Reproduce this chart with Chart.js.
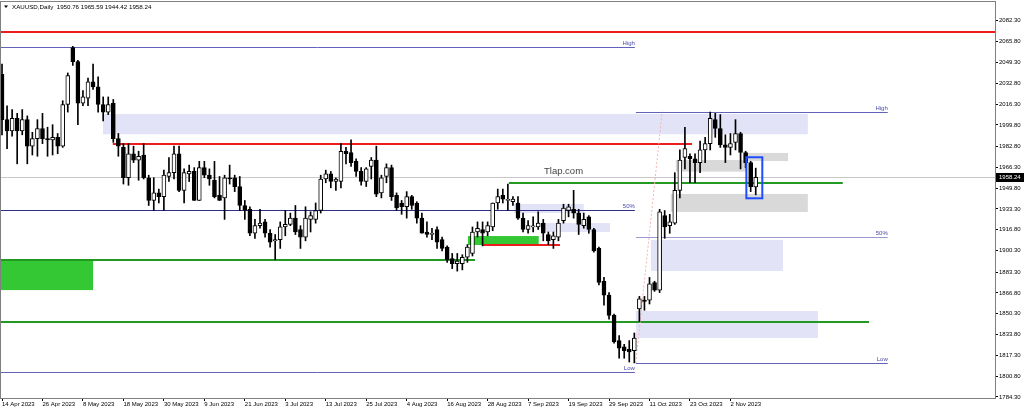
<!DOCTYPE html>
<html>
<head>
<meta charset="utf-8">
<script src="https://cdn.jsdelivr.net/npm/chart.js@4.4.1/dist/chart.umd.min.js"></script>
<style>
html,body{margin:0;padding:0;background:#fff;overflow:hidden}
canvas{display:block}
</style>
</head>
<body>
<canvas id="c" width="1024" height="412"></canvas>
<script>
// ---------- DATA ----------
const symbol = 'XAUUSD';
const period = 'Daily';

// x-axis tick labels (bar index of each label)
const xTickIdx = [0, 8, 16, 24, 32, 40, 48, 56, 64, 72, 80, 88, 96, 104, 112, 120, 128, 136, 144];
const xTickLabels = ['14 Apr 2023','26 Apr 2023','8 May 2023','18 May 2023','30 May 2023','9 Jun 2023',
  '21 Jun 2023','3 Jul 2023','13 Jul 2023','25 Jul 2023','4 Aug 2023','16 Aug 2023','28 Aug 2023',
  '7 Sep 2023','19 Sep 2023','29 Sep 2023','11 Oct 2023','23 Oct 2023','2 Nov 2023'];

// y-axis tick labels
const yTickLabels = ['2082.30','2065.80','2049.30','2032.80','2016.30','1999.80','1982.80','1966.30',
  '1949.80','1933.30','1916.80','1900.30','1883.30','1866.80','1850.30','1833.80','1817.30','1800.80','1784.30'];

// daily OHLC, 14 Apr 2023 .. 9 Nov 2023
const open = [2040,2004,1995,2005,1995,2004,1983,1989,1997,1989, 1988,1990,1983,2016,2061,2050,2017,2021,2034,2030,
  2016,2010,2017,1989,1982,1958,1977,1972,1976,1958, 1940,1946,1943,1959,1962,1977,1948,1961,1963,1940,
  1966,1960,1956,1944,1942,1958,1958,1951,1936,1933, 1914,1920,1923,1914,1908,1909,1919,1921,1926,1917,
  1911,1925,1925,1932,1957,1961,1955,1955,1979,1978, 1971,1963,1955,1967,1972,1946,1959,1966,1944,1938,
  1935,1943,1938,1926,1915,1913,1917,1909,1903,1894, 1890,1890,1895,1898,1915,1917,1915,1919,1938,1944,
  1940,1939,1938,1926,1917,1919,1919,1922,1913,1909, 1911,1924,1932,1933,1930,1920,1927,1917,1902,1876,
  1865,1849,1829,1824,1822,1821,1854,1861,1861,1875, 1869,1928,1920,1922,1948,1974,1975,1973,1970,1980,
  1985,2004,1997,1984,1982,1986,1993,1978,1970,1950.76];
const high = [2048,2015,2012,2009,2012,2007,1994,2004,2009,1998, 2000,1993,2019,2041,2062,2051,2027,2037,2048,2038,
  2022,2022,2020,1993,1985,1985,1983,1979,1985,1960, 1958,1949,1964,1974,1983,1983,1965,1968,1966,1971,
  1971,1965,1971,1959,1960,1968,1960,1959,1940,1935, 1925,1933,1925,1917,1913,1923,1932,1930,1936,1920,
  1935,1931,1938,1960,1964,1963,1958,1985,1982,1988, 1973,1966,1966,1974,1983,1960,1969,1968,1946,1940,
  1947,1944,1939,1930,1923,1918,1919,1911,1904,1898, 1898,1897,1905,1919,1923,1923,1923,1938,1949,1949,
  1953,1943,1943,1930,1924,1927,1931,1925,1915,1915, 1925,1937,1937,1948,1933,1930,1928,1918,1903,1879,
  1867,1850,1833,1826,1829,1835,1864,1864,1879,1876, 1933,1932,1929,1962,1980,1998,1977,1977,1987,1990,
  2010,2009,2008,1992,1993,2004,1994,1979,1971,1965.59];
const low = [1992,1981,1991,1969,1992,1969,1976,1975,1985,1975, 1976,1977,1982,2010,2047,2000,2015,2015,2028,2010,
  2003,2008,1986,1975,1953,1952,1970,1956,1957,1936, 1932,1938,1932,1955,1957,1947,1938,1955,1940,1940,
  1958,1952,1942,1940,1925,1953,1947,1932,1925,1912, 1910,1918,1911,1903,1893,1902,1912,1920,1913,1902,
  1908,1915,1922,1930,1954,1950,1948,1950,1969,1967, 1959,1952,1951,1957,1943,1942,1954,1940,1932,1929,
  1926,1933,1922,1914,1911,1909,1902,1900,1891,1886, 1884,1885,1891,1896,1911,1904,1912,1916,1933,1938,
  1932,1936,1925,1915,1914,1915,1917,1908,1905,1902, 1908,1922,1927,1926,1913,1918,1914,1899,1873,1857,
  1846,1827,1815,1815,1812,1811.3,1844,1853,1858,1868, 1867,1910,1914,1921,1942,1965,1954,1954,1962,1970,
  1980,1990,1982,1970,1976,1980,1965,1966,1947,1944.42];
const close = [2004,1995,2005,1995,2004,1983,1989,1997,1989,1988, 1990,1983,2016,2039,2050,2017,2022,2034,2030,2016,
  2010,2016,1989,1983,1958,1977,1972,1975,1958,1940, 1946,1943,1960,1962,1977,1948,1962,1963,1940,1966,
  1960,1957,1943,1940,1958,1957,1951,1936,1932,1914, 1920,1922,1914,1907,1909,1919,1921,1926,1915,1911,
  1926,1928,1932,1957,1961,1955,1957,1979,1977,1970, 1963,1955,1965,1972,1945,1958,1966,1943,1934,1935,
  1943,1936,1926,1914,1913,1914,1907,1902,1893,1890, 1892,1895,1903,1915,1918,1914,1920,1938,1943,1941,
  1940,1941,1926,1917,1920,1919,1922,1914,1908,1912, 1922,1934,1935,1930,1921,1925,1917,1900,1875,1865,
  1849,1828,1823,1821,1820,1831,1862,1860,1874,1869, 1931,1919,1923,1948,1972,1981,1973,1970,1980,1985,
  2005,1997,1984,1982,1985,1993,1978,1970,1951,1958.24];

// drawn objects, in data units: [fromBar, toBar, priceTop, priceBottom]
const lavenderZones = [[19.96,159.3,2008.5,1992.4],[101.2,115.0,1937.2,1930.0],[107.3,120.2,1922.1,1915.0],
  [128.3,154.4,1908.7,1884.1],[125.3,161.3,1852.4,1831.0]];
const grayZones = [[133.2,147.1,1972.0,1962.8],[146.5,155.4,1977.6,1971.2],[132.2,159.3,1945.1,1930.8]];
const greenZones = [[-2,18.0,1893.0,1869.0],[92.1,106.1,1911.8,1904.7]];
// horizontal levels: [fromBar, toBar, price]
const redLevels = [[-2,200,2073.2],[21.9,136.4,1984.7],[95.1,110.3,1904.7]];
const greenLevels = [[100.2,166.2,1954.1],[-2,93.5,1893.0],[-2,171.4,1843.7]];
// fibo levels: [fromBar, toBar, price, label]
const fiboLevels = [[-2,125.1,2061.3,'High'],[-2,125.1,1932.7,'50%'],[-2,125.1,1804.1,'Low'],
  [125.3,175.1,2010.3,'High'],[125.3,175.1,1910.8,'50%'],[125.3,175.1,1811.2,'Low']];
const fiboTrend = [125.3,1811.2,130.5,2010.3];
const markBox = [147.15,150.3,1974.2,1941.7];
const watermark = ['Tlap.com', 111.0, 1963.3];

// ---------- STYLE ----------
const FONT = '"Liberation Sans", Arial, sans-serif';
const fiboColors = ['#6262b8','#2e2e88','#6262b8','#6262b8','#9a9ad0','#6262b8'];

const idx = open.map((_, i) => i);
const last = idx.length - 1;

const overlay = {
  id: 'overlay',
  beforeDatasetsDraw(chart) {
    const {ctx, chartArea: a} = chart;
    const X = v => chart.scales.x.getPixelForValue(v);
    const Y = v => chart.scales.y.getPixelForValue(v);
    ctx.save();
    ctx.beginPath(); ctx.rect(a.left, a.top, a.right - a.left, a.bottom - a.top); ctx.clip();
    const rect = (z, c) => {
      const x0 = X(z[0]), x1 = X(z[1]), y0 = Y(z[2]), y1 = Y(z[3]);
      ctx.fillStyle = c; ctx.fillRect(x0, y0, x1 - x0, y1 - y0);
    };
    lavenderZones.forEach(z => rect(z, '#e3e3f8'));
    grayZones.forEach(z => rect(z, '#d9d9d9'));
    greenZones.forEach(z => rect(z, '#34c934'));
    const hline = (x0, x1, p, c, w) => {
      const y = Math.round(Y(p)) + (w % 2 ? 0.5 : 0);
      ctx.strokeStyle = c; ctx.lineWidth = w;
      ctx.beginPath(); ctx.moveTo(X(x0), y); ctx.lineTo(X(x1), y); ctx.stroke();
    };
    hline(-2, 250, close[last], '#c8c8c8', 1);
    redLevels.forEach(l => hline(l[0], l[1], l[2], '#ee1d1d', 2));
    greenLevels.forEach(l => hline(l[0], l[1], l[2], '#229a22', 2));
    // fibo trend line (dotted)
    ctx.setLineDash([2, 2]);
    ctx.strokeStyle = '#f4b4b4'; ctx.lineWidth = 1;
    ctx.beginPath(); ctx.moveTo(X(fiboTrend[0]), Y(fiboTrend[1])); ctx.lineTo(X(fiboTrend[2]), Y(fiboTrend[3])); ctx.stroke();
    ctx.setLineDash([]);
    ctx.font = '6px ' + FONT; ctx.textAlign = 'right'; ctx.textBaseline = 'alphabetic';
    fiboLevels.forEach((l, k) => {
      hline(l[0], l[1], l[2], fiboColors[k], 1);
      ctx.fillStyle = '#4848a8';
      ctx.fillText(l[3], X(l[1]), Math.round(Y(l[2])) - 2);
    });
    ctx.restore();
  },
  afterDatasetsDraw(chart) {
    const {ctx} = chart;
    const X = v => chart.scales.x.getPixelForValue(v);
    const Y = v => chart.scales.y.getPixelForValue(v);
    ctx.save();
    ctx.strokeStyle = '#1e4cff'; ctx.lineWidth = 2;
    ctx.strokeRect(X(markBox[0]), Y(markBox[2]), X(markBox[1]) - X(markBox[0]), Y(markBox[3]) - Y(markBox[2]));
    ctx.fillStyle = '#444';
    ctx.font = '9.5px ' + FONT; ctx.textAlign = 'center'; ctx.textBaseline = 'middle';
    ctx.fillText(watermark[0], X(watermark[1]), Y(watermark[2]));
    ctx.restore();
  },
  afterDraw(chart) {
    const {ctx, chartArea: a} = chart;
    const Y = v => chart.scales.y.getPixelForValue(v);
    ctx.save();
    // frame
    ctx.strokeStyle = '#808080'; ctx.lineWidth = 1;
    ctx.strokeRect(Math.round(a.left) - 0.5, Math.round(a.top) - 0.5, Math.round(a.right - a.left) + 1, Math.round(a.bottom - a.top) + 1);
    // header
    ctx.fillStyle = '#000';
    ctx.beginPath(); ctx.moveTo(4, 5.5); ctx.lineTo(8, 5.5); ctx.lineTo(6, 8); ctx.closePath(); ctx.fill();
    ctx.font = '6.2px ' + FONT; ctx.textAlign = 'left'; ctx.textBaseline = 'middle';
    const hdr = symbol + ',' + period + '  ' + [open[last], high[last], low[last], close[last]].map(v => v.toFixed(2)).join(' ');
    ctx.fillText(hdr, 12, 7);
    // price tag
    const y = Y(close[last]);
    ctx.fillStyle = '#000';
    ctx.fillRect(a.right + 1, Math.round(y) - 4, 1024 - a.right - 1, 9);
    ctx.fillStyle = '#fff';
    ctx.font = '6px ' + FONT; ctx.textBaseline = 'middle';
    ctx.fillText(close[last].toFixed(2), a.right + 4, Math.round(y) + 0.5);
    ctx.restore();
  }
};

new Chart(document.getElementById('c'), {
  type: 'bar',
  data: {
    datasets: [
      {
        label: 'wick',
        data: idx.map(i => ({x: i, y: [low[i], high[i]]})),
        backgroundColor: '#000',
        borderWidth: 0,
        barThickness: 1,
        grouped: false,
        order: 2
      },
      {
        label: 'body',
        data: idx.map(i => ({x: i, y: [Math.min(open[i], close[i]), Math.max(open[i], close[i])]})),
        backgroundColor: idx.map(i => close[i] >= open[i] ? '#ffffff' : '#000000'),
        borderColor: '#000',
        borderWidth: 1,
        borderSkipped: false,
        barThickness: 4,
        minBarLength: 1,
        grouped: false,
        order: 1
      }
    ]
  },
  options: {
    responsive: false,
    animation: false,
    events: [],
    layout: {padding: {left: 1, top: 2, right: 0, bottom: 0}},
    plugins: {legend: {display: false}, tooltip: {enabled: false}},
    scales: {
      x: {
        type: 'linear',
        min: -0.2,
        max: 196.3,
        offset: false,
        afterBuildTicks: s => { s.ticks = xTickIdx.map(v => ({value: v})); },
        afterFit: s => { s.height = 14; s.paddingLeft = 0; s.paddingRight = 0; },
        ticks: {
          autoSkip: false, maxRotation: 0, align: 'start', padding: 0,
          color: '#000', font: {family: FONT, size: 6},
          callback: (v, i) => xTickLabels[i]
        },
        grid: {display: true, drawOnChartArea: false, drawTicks: true, tickLength: 3, color: '#000', offset: false},
        border: {display: false}
      },
      y: {
        type: 'linear',
        position: 'right',
        min: 1783.5,
        max: 2097.2,
        beginAtZero: false,
        afterBuildTicks: s => { s.ticks = yTickLabels.map(t => ({value: parseFloat(t)})); },
        afterFit: s => { s.width = 29; s.paddingTop = 0; s.paddingBottom = 0; },
        ticks: {
          padding: 1, color: '#000', font: {family: FONT, size: 6},
          callback: (v, i) => yTickLabels[i]
        },
        grid: {display: true, drawOnChartArea: false, drawTicks: true, tickLength: 3, color: '#000'},
        border: {display: false}
      }
    }
  },
  plugins: [overlay]
});
</script>
</body>
</html>
